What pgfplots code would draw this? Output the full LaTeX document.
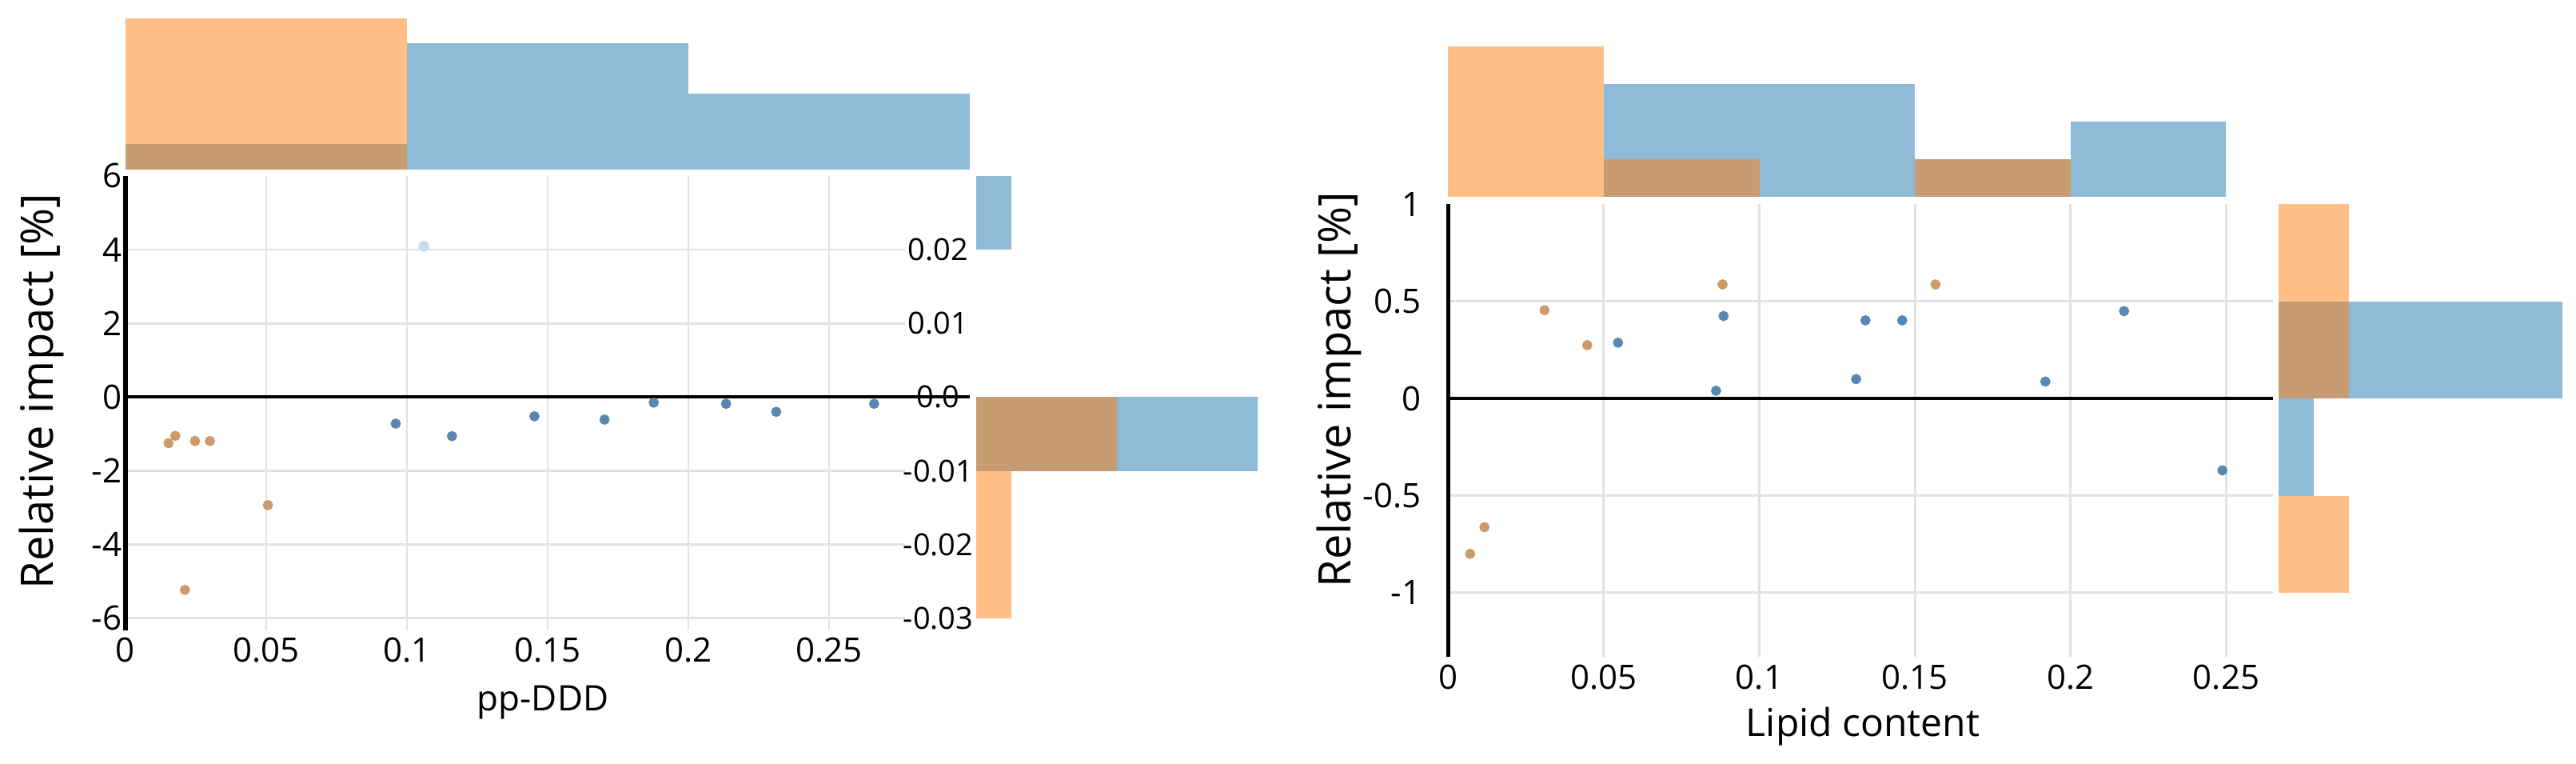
\documentclass[border=0pt]{standalone}
\usepackage{fontspec}
\setmainfont{Open Sans}
\usepackage{pgfplots}
\pgfplotsset{compat=1.18}
\definecolor{hblue}{RGB}{31,119,180}
\definecolor{horange}{RGB}{255,127,14}
\definecolor{dblue}{RGB}{88,136,178}
\definecolor{dorange}{RGB}{203,155,106}
\definecolor{fblue}{RGB}{200,221,236}
\definecolor{gridc}{RGB}{226,226,226}
\pgfplotsset{
  base/.style={scale only axis, anchor=south west, clip=false,
    axis line style={draw=none}, tick style={draw=none}, major tick length=0pt,
    scaled ticks=false,
    /pgf/number format/assume math mode=true,
    ticklabel style={font=\fontsize{10.5}{12}\selectfont}},
  hb/.style={fill=hblue, fill opacity=0.5, draw=none},
  ho/.style={fill=horange, fill opacity=0.5, draw=none},
  db/.style={only marks, mark=*, mark size=1.4pt, color=dblue, mark options={draw=none}},
  do/.style={only marks, mark=*, mark size=1.4pt, color=dorange, mark options={draw=none}},
}
\begin{document}
\begin{tikzpicture}
\useasboundingbox (0,0) rectangle (805.5pt,238.5pt);

% ---------------- LEFT PANEL ----------------
% top histogram
\begin{axis}[base, hide axis, at={(39.25pt,185.5pt)}, width=264pt, height=47.25pt,
  xmin=0, xmax=0.3, ymin=0, ymax=6]
\addplot[hb] coordinates {(0,0) (0,1) (0.1,1) (0.1,0)} -- cycle;
\addplot[hb] coordinates {(0.1,0) (0.1,5) (0.2,5) (0.2,0)} -- cycle;
\addplot[hb] coordinates {(0.2,0) (0.2,3) (0.3,3) (0.3,0)} -- cycle;
\addplot[ho] coordinates {(0,0) (0,6) (0.1,6) (0.1,0)} -- cycle;
\end{axis}
% right histogram (secondary scale)
\begin{axis}[base, at={(305.25pt,41.5pt)}, width=88pt, height=142pt,
  xmin=0, xmax=8, ymin=-0.03165, ymax=0.03, xtick=\empty,
  ytick={-0.03,-0.02,-0.01,0,0.01,0.02},
  yticklabels={-0.03,-0.02,-0.01,0.0,0.01,0.02},
  yticklabel style={anchor=center, xshift=-11.85pt, font=\fontsize{9.5}{11}\selectfont}]
\addplot[hb] coordinates {(0,0.02) (1,0.02) (1,0.03) (0,0.03)} -- cycle;
\addplot[hb] coordinates {(0,-0.01) (8,-0.01) (8,0) (0,0)} -- cycle;
\addplot[ho] coordinates {(0,-0.01) (4,-0.01) (4,0) (0,0)} -- cycle;
\addplot[ho] coordinates {(0,-0.02) (1,-0.02) (1,-0.01) (0,-0.01)} -- cycle;
\addplot[ho] coordinates {(0,-0.03) (1,-0.03) (1,-0.02) (0,-0.02)} -- cycle;
\end{axis}
% main scatter
\begin{axis}[base, at={(39.25pt,41.5pt)}, width=264pt, height=142pt,
  xmin=0, xmax=0.3, ymin=-6.33, ymax=6,
  xtick={0,0.05,0.1,0.15,0.2,0.25}, xticklabels={0,0.05,0.1,0.15,0.2,0.25},
  ytick={-6,-4,-2,0,2,4,6}, yticklabels={-6,-4,-2,0,2,4,6},
  xticklabel style={inner sep=2pt}, yticklabel style={inner sep=1pt}]
\foreach \x in {0.05,0.1,0.15,0.2,0.25} {\edef\tmp{\noexpand\draw[gridc, line width=0.7pt] (axis cs:\x,-6.33) -- (axis cs:\x,6);}\tmp}
\foreach \y in {-6,-4,-2,2,4} {\edef\tmp{\noexpand\draw[gridc, line width=0.7pt] (axis cs:0,\y) -- (axis cs:0.277,\y);}\tmp}
\draw[black, line width=1pt] (axis cs:0,0) -- (axis cs:0.3,0);
\draw[black, line width=1.3pt] (axis cs:0,-6.33) -- (axis cs:0,6);
\addplot[only marks, mark=*, mark size=1.5pt, color=fblue, mark options={draw=none}] coordinates {(0.106,4.09)};
\addplot[db] coordinates {(0.096,-0.72) (0.116,-1.06) (0.1453,-0.52) (0.1702,-0.61) (0.1877,-0.15) (0.2134,-0.18) (0.2312,-0.40) (0.266,-0.18)};
\addplot[do] coordinates {(0.0153,-1.25) (0.0177,-1.05) (0.0247,-1.19) (0.0300,-1.19) (0.0506,-2.93) (0.0211,-5.23)};
\end{axis}
\node[rotate=90, anchor=base, font=\fontsize{14}{16}\selectfont] at (16.5pt,116.25pt) {Relative impact [\%]};
\node[anchor=center, font=\fontsize{11}{13}\selectfont] at (169.75pt,19pt) {pp-DDD};

% ---------------- RIGHT PANEL ----------------
\begin{axis}[base, hide axis, at={(452.8pt,176.9pt)}, width=257.9pt, height=47.15pt,
  xmin=0, xmax=0.265, ymin=0, ymax=4]
\addplot[hb] coordinates {(0.05,0) (0.05,3) (0.15,3) (0.15,0)} -- cycle;
\addplot[hb] coordinates {(0.15,0) (0.15,1) (0.2,1) (0.2,0)} -- cycle;
\addplot[hb] coordinates {(0.2,0) (0.2,2) (0.25,2) (0.25,0)} -- cycle;
\addplot[ho] coordinates {(0,0) (0,4) (0.05,4) (0.05,0)} -- cycle;
\addplot[ho] coordinates {(0.05,0) (0.05,1) (0.1,1) (0.1,0)} -- cycle;
\addplot[ho] coordinates {(0.15,0) (0.15,1) (0.2,1) (0.2,0)} -- cycle;
\end{axis}
\begin{axis}[base, hide axis, at={(712.4pt,33.25pt)}, width=88.8pt, height=141.4pt,
  xmin=0, xmax=8, ymin=-1.33, ymax=1]
\addplot[hb] coordinates {(0,0) (8,0) (8,0.5) (0,0.5)} -- cycle;
\addplot[hb] coordinates {(0,-0.5) (1,-0.5) (1,0) (0,0)} -- cycle;
\addplot[ho] coordinates {(0,0.5) (2,0.5) (2,1) (0,1)} -- cycle;
\addplot[ho] coordinates {(0,0) (2,0) (2,0.5) (0,0.5)} -- cycle;
\addplot[ho] coordinates {(0,-1) (2,-1) (2,-0.5) (0,-0.5)} -- cycle;
\end{axis}
\begin{axis}[base, at={(452.8pt,33.25pt)}, width=257.9pt, height=141.4pt,
  xmin=0, xmax=0.265, ymin=-1.33, ymax=1,
  xtick={0,0.05,0.1,0.15,0.2,0.25}, xticklabels={0,0.05,0.1,0.15,0.2,0.25},
  ytick={-1,-0.5,0,0.5,1}, yticklabels={-1,-0.5,0,0.5,1},
  xticklabel style={inner sep=2.25pt}, yticklabel style={inner sep=1pt, xshift=-7.25pt}]
\foreach \x in {0.05,0.1,0.15,0.2,0.25} {\edef\tmp{\noexpand\draw[gridc, line width=0.7pt] (axis cs:\x,-1.33) -- (axis cs:\x,1);}\tmp}
\foreach \y in {-1,-0.5,0.5} {\edef\tmp{\noexpand\draw[gridc, line width=0.7pt] (axis cs:0,\y) -- (axis cs:0.265,\y);}\tmp}
\draw[black, line width=1pt] (axis cs:0,0) -- (axis cs:0.265,0);
\draw[black, line width=1.3pt] (axis cs:0,-1.33) -- (axis cs:0,1);
\addplot[db] coordinates {(0.0546,0.2875) (0.0861,0.04) (0.0885,0.425) (0.1311,0.10) (0.1341,0.4025) (0.1459,0.4025) (0.1919,0.0875) (0.2172,0.45) (0.2488,-0.37)};
\addplot[do] coordinates {(0.0071,-0.80) (0.0117,-0.6625) (0.031,0.455) (0.0447,0.275) (0.0882,0.5875) (0.1566,0.5875)};
\end{axis}
\node[rotate=90, anchor=base, font=\fontsize{14}{16}\selectfont] at (422.25pt,116.75pt) {Relative impact [\%]};
\node[anchor=center, font=\fontsize{12}{14}\selectfont] at (582.5pt,11.5pt) {Lipid content};
\end{tikzpicture}
\end{document}
